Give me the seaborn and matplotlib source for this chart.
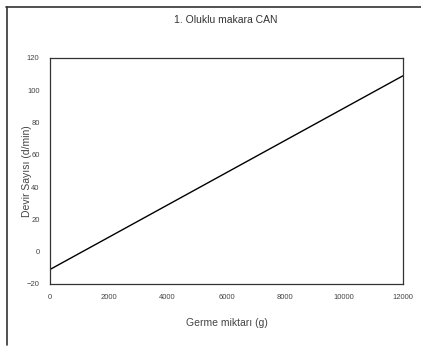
import matplotlib
matplotlib.use("Agg")
import matplotlib.pyplot as plt
import seaborn as sns
import pandas as pd
from matplotlib.lines import Line2D

# Calibration line: pulley speed versus tension load
load_g = [0, 12000]
speed = [-11, 109]

x_ticks = [0, 2000, 4000, 6000, 8000, 10000, 12000]
y_ticks = [-20, 0, 20, 40, 60, 80, 100, 120]

title = "1. Oluklu makara CAN"
x_label = "Germe miktarı (g)"
y_label = "Devir Sayısı (d/min)"

sns.set_theme(style="white")
plt.rcParams["font.family"] = ["Liberation Sans", "DejaVu Sans"]

df = pd.DataFrame({"load": load_g, "speed": speed})

fig = plt.figure(figsize=(4.21, 3.59), dpi=100)
ax = fig.add_axes([50 / 421, 1 - 284 / 359, (403 - 50) / 421, (284 - 58) / 359])

sns.lineplot(data=df, x="load", y="speed", ax=ax, color="black", linewidth=1.0)

ax.set_xlim(0, 12000)
ax.set_ylim(-20, 120)
ax.set_xticks(x_ticks)
ax.set_yticks(y_ticks)
ax.tick_params(axis="both", labelsize=5.5, colors="#444444", length=3,
               direction="inout", width=0.6)
ax.tick_params(axis="x", pad=6)
ax.tick_params(axis="y", pad=6)
for s in ax.spines.values():
    s.set_color("#333333")
    s.set_linewidth(0.9)

ax.set_xlabel(x_label, fontsize=7.5, color="#444444")
ax.set_ylabel(y_label, fontsize=7.5, color="#444444")
ax.xaxis.set_label_coords(0.5, -0.15)
ax.yaxis.set_label_coords(-0.05, 0.5)
fig.text(226 / 421, 1 - 20 / 359, title, ha="center", va="center",
         fontsize=7.5, color="#333333")

# Outer frame: top and left edges
fig.add_artist(Line2D([6 / 421, 1.0], [1 - 7 / 359, 1 - 7 / 359],
                      transform=fig.transFigure, color="#333333", linewidth=1.2))
fig.add_artist(Line2D([7 / 421, 7 / 421], [1 - 7 / 359, 1 - 345 / 359],
                      transform=fig.transFigure, color="#333333", linewidth=1.2))

fig.savefig("out.png", dpi=100)
